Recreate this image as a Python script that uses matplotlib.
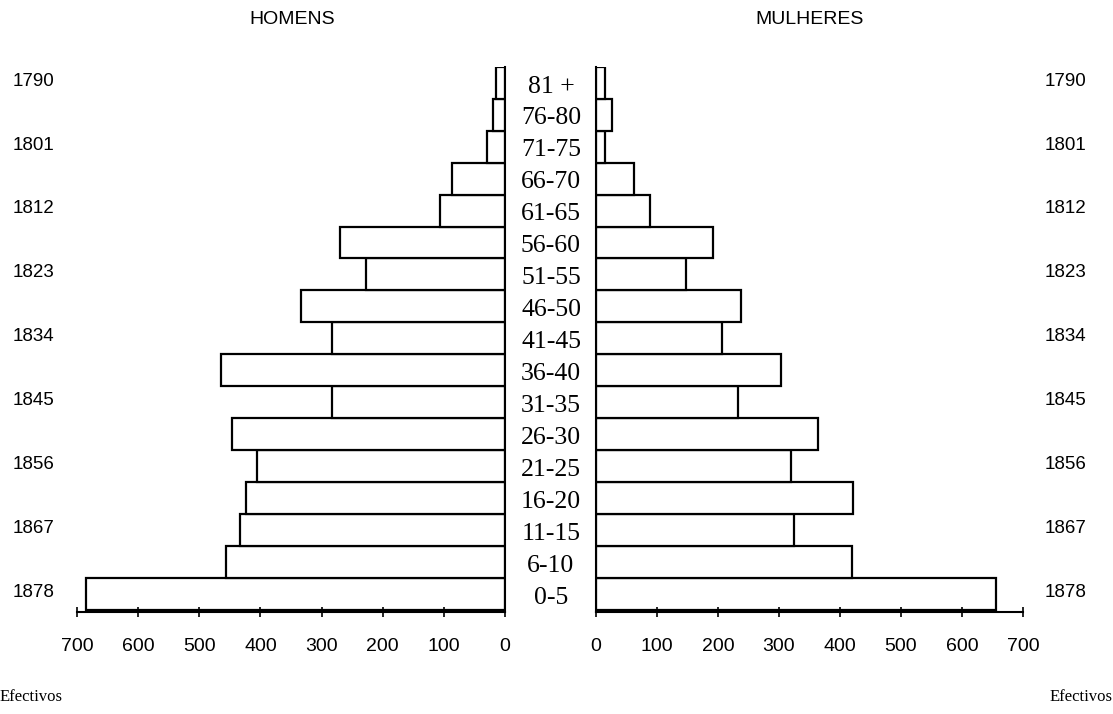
import matplotlib
matplotlib.use("Agg")
from matplotlib import pyplot as plt
from matplotlib.transforms import blended_transform_factory

# Age groups, from youngest (bottom) to oldest (top)
ages = ["0-5", "6-10", "11-15", "16-20", "21-25", "26-30", "31-35", "36-40",
        "41-45", "46-50", "51-55", "56-60", "61-65", "66-70", "71-75", "76-80", "81 +"]

# Number of men and women per age group
homens = [686, 457, 434, 424, 405, 446, 283, 464,
          283, 333, 228, 270, 107, 86, 30, 19, 15]
mulheres = [656, 419, 325, 422, 319, 364, 233, 303,
            206, 238, 147, 192, 88, 63, 15, 27, 14]

# Birth years shown on both sides, bottom to top
anos = ["1878", "1867", "1856", "1845", "1834", "1823", "1812", "1801", "1790"]

xticks = [0, 100, 200, 300, 400, 500, 600, 700]

sans = "Liberation Sans"
serif = "Liberation Serif"

fig = plt.figure(figsize=(11.13, 7.14), dpi=100)

# axes positions (figure fractions)
bottom = 1 - 612 / 714
height = (612 - 66.7) / 714
ax1 = fig.add_axes([77 / 1113, bottom, 428 / 1113, height])
ax2 = fig.add_axes([596 / 1113, bottom, 427 / 1113, height])

y = list(range(len(ages)))

ax1.barh(y, homens, height=1.0, color="white", edgecolor="black", linewidth=1.6)
ax2.barh(y, mulheres, height=1.0, color="white", edgecolor="black", linewidth=1.6)

# left pyramid grows to the left
ax1.set_xlim(700, 0)
ax2.set_xlim(0, 700)

for ax in (ax1, ax2):
    ax.set_ylim(-0.56, 16.5)
    ax.set_yticks([])
    ax.set_xticks(xticks)
    ax.set_xticklabels([str(t) for t in xticks], fontfamily=sans, fontsize=14)
    ax.tick_params(axis="x", direction="inout", length=7, width=1.2, pad=15)
    ax.spines["top"].set_visible(False)
    for s in ax.spines.values():
        s.set_linewidth(1.5)

ax1.spines["left"].set_visible(False)
ax2.spines["right"].set_visible(False)

# titles
fig.text(292 / 1113, 1 - 19 / 714, "HOMENS", fontfamily=sans, fontsize=14,
         ha="center", va="center")
fig.text(810 / 1113, 1 - 19 / 714, "MULHERES", fontfamily=sans, fontsize=14,
         ha="center", va="center")

# age labels in the middle
tr = blended_transform_factory(fig.transFigure, ax1.transData)
for i, a in enumerate(ages):
    fig.text(551 / 1113, i - 0.12, a, transform=tr, fontfamily=serif, fontsize=18.5,
             ha="center", va="center")

# years on both sides, every other row
for k, ano in enumerate(anos):
    yy = 2 * k + 0.05
    fig.text(13 / 1113, yy, ano, transform=tr, fontfamily=sans, fontsize=13.5,
             ha="left", va="center")
    fig.text(1045 / 1113, yy, ano, transform=tr, fontfamily=sans, fontsize=13.5,
             ha="left", va="center")

# bottom labels
fig.text(0.0, 1 - 697 / 714, "Efectivos", fontfamily=serif, fontsize=12,
         ha="left", va="center")
fig.text(1.0, 1 - 697 / 714, "Efectivos", fontfamily=serif, fontsize=12,
         ha="right", va="center")

fig.savefig("out.png", dpi=100)
